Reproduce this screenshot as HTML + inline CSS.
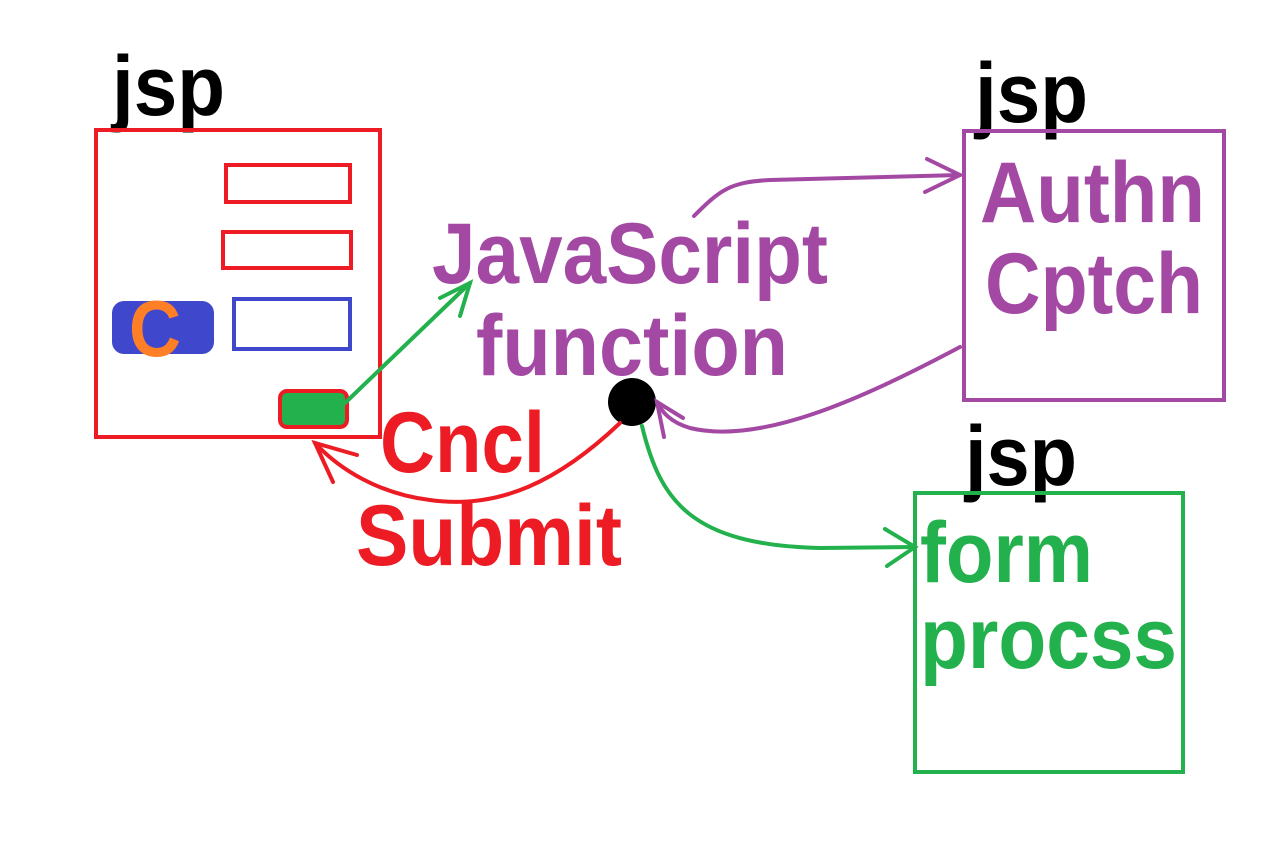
<!DOCTYPE html>
<html><head><meta charset="utf-8"><style>
html,body{margin:0;padding:0;background:#fff;width:1282px;height:842px;overflow:hidden}
text{font-family:"Liberation Sans",Arial,sans-serif;font-weight:bold}
</style></head><body>
<svg width="1282" height="842" viewBox="0 0 1282 842" xmlns="http://www.w3.org/2000/svg">
<rect width="1282" height="842" fill="#fff"/>
<text x="112" y="115" font-size="84" fill="#000" textLength="113" lengthAdjust="spacingAndGlyphs">jsp</text>
<rect x="96" y="130" width="284" height="307" fill="none" stroke="#ed1c24" stroke-width="4"/>
<rect x="226" y="165" width="124" height="37" fill="none" stroke="#ed1c24" stroke-width="4"/>
<rect x="223" y="232" width="128" height="36" fill="none" stroke="#ed1c24" stroke-width="4"/>
<rect x="234" y="299" width="116" height="50" fill="none" stroke="#3f48cc" stroke-width="4"/>
<rect x="112" y="301" width="102" height="53" rx="12" fill="#3f48cc"/>
<text x="129" y="356" font-size="80" fill="#ff7f27" textLength="52" lengthAdjust="spacingAndGlyphs">C</text>
<rect x="280" y="391" width="67" height="36" rx="7" fill="#22b14c" stroke="#ed1c24" stroke-width="4"/>
<text x="432" y="283" font-size="86" fill="#a349a4" textLength="396" lengthAdjust="spacingAndGlyphs">JavaScript</text>
<text x="476" y="375" font-size="86" fill="#a349a4" textLength="312" lengthAdjust="spacingAndGlyphs">function</text>
<circle cx="632" cy="402" r="24" fill="#000"/>
<text x="975" y="122" font-size="84" fill="#000" textLength="113" lengthAdjust="spacingAndGlyphs">jsp</text>
<rect x="964" y="131" width="260" height="269" fill="none" stroke="#a349a4" stroke-width="4"/>
<text x="980" y="222" font-size="86" fill="#a349a4" textLength="225" lengthAdjust="spacingAndGlyphs">Authn</text>
<text x="985" y="313" font-size="86" fill="#a349a4" textLength="218" lengthAdjust="spacingAndGlyphs">Cptch</text>
<text x="965" y="485" font-size="84" fill="#000" textLength="112" lengthAdjust="spacingAndGlyphs">jsp</text>
<rect x="915" y="493" width="268" height="279" fill="none" stroke="#22b14c" stroke-width="4"/>
<text x="920" y="582" font-size="86" fill="#22b14c" textLength="173" lengthAdjust="spacingAndGlyphs">form</text>
<text x="920" y="668" font-size="86" fill="#22b14c" textLength="257" lengthAdjust="spacingAndGlyphs">procss</text>
<text x="380" y="472" font-size="86" fill="#ed1c24" textLength="165" lengthAdjust="spacingAndGlyphs">Cncl</text>
<text x="356" y="565" font-size="86" fill="#ed1c24" textLength="266" lengthAdjust="spacingAndGlyphs">Submit</text>
<g fill="none" stroke-width="4" stroke-linecap="round">
<path d="M345 403 L470 283" stroke="#22b14c"/>
<path d="M440 298 L470 283 L460 316" stroke="#22b14c"/>
<path d="M694 216 C720 190 730 182 770 180 L960 175" stroke="#a349a4"/>
<path d="M927 159 L960 175 L925 192" stroke="#a349a4"/>
<path d="M960 347 C860 400 760 445 690 428 C670 422 662 412 657 402" stroke="#a349a4"/>
<path d="M683 418 L657 402 L664 437" stroke="#a349a4"/>
<path d="M620 423 C560 480 500 510 430 500 C380 494 340 470 315 443" stroke="#ed1c24"/>
<path d="M357 455 L315 443 L333 482" stroke="#ed1c24"/>
<path d="M642 426 C660 500 690 545 820 548 L915 547" stroke="#22b14c"/>
<path d="M885 529 L915 547 L887 566" stroke="#22b14c"/>
</g>
</svg>
</body></html>
